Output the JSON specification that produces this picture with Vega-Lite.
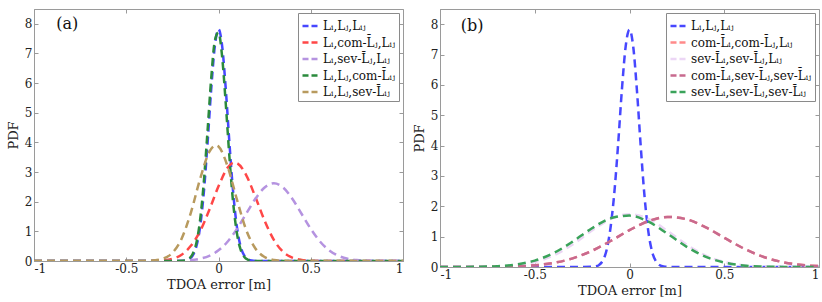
{
  "$schema": "https://vega.github.io/schema/vega-lite/v6.json",
  "padding": {"left": 6, "top": 8, "right": 2, "bottom": 2},
  "background": "white",
  "config": {
    "view": {"stroke": "#9a9a9a", "strokeWidth": 1},
    "font": "DejaVu Serif",
    "text": {"font": "DejaVu Serif"},
    "axis": {
      "domainColor": "#9a9a9a", "tickColor": "#9a9a9a", "tickSize": -4,
      "labelFont": "DejaVu Serif", "labelFontSize": 12, "labelColor": "#222",
      "titleFont": "DejaVu Serif", "titleFontSize": 13, "titleFontWeight": "normal", "titleColor": "#222",
      "grid": false, "labelPadding": 6
    },
    "legend": {
      "orient": "top-right", "offset": 4, "strokeColor": "#8a8a8a", "fillColor": "white",
      "padding": 3, "labelFont": "DejaVu Serif", "labelFontSize": 12, "labelColor": "#111",
      "symbolType": "stroke", "symbolDash": [6, 3], "symbolStrokeWidth": 2.5, "symbolSize": 289,
      "rowPadding": 0.5, "labelLimit": 400, "labelOffset": 2
    }
  },
  "datasets": {
    "namesA": [
      {"k": 1, "label": "L\u1d62,L\u2c7c,L\u1d62\u2c7c"},
      {"k": 2, "label": "L\u1d62,com-L\u0304\u2c7c,L\u1d62\u2c7c"},
      {"k": 3, "label": "L\u1d62,sev-L\u0304\u2c7c,L\u1d62\u2c7c"},
      {"k": 4, "label": "L\u1d62,L\u2c7c,com-L\u0304\u1d62\u2c7c"},
      {"k": 5, "label": "L\u1d62,L\u2c7c,sev-L\u0304\u1d62\u2c7c"}
    ],
    "namesB": [
      {"k": 1, "label": "L\u1d62,L\u2c7c,L\u1d62\u2c7c"},
      {"k": 2, "label": "com-L\u0304\u1d62,com-L\u0304\u2c7c,L\u1d62\u2c7c"},
      {"k": 3, "label": "sev-L\u0304\u1d62,sev-L\u0304\u2c7c,L\u1d62\u2c7c"},
      {"k": 4, "label": "com-L\u0304\u1d62,sev-L\u0304\u2c7c,sev-L\u0304\u1d62\u2c7c"},
      {"k": 5, "label": "sev-L\u0304\u1d62,sev-L\u0304\u2c7c,sev-L\u0304\u1d62\u2c7c"}
    ],
    "a": [
      {"k":1,"x":-1,"y":0},{"k":1,"x":-0.3,"y":0},{"k":1,"x":-0.2,"y":0.004},{"k":1,"x":-0.18,"y":0.015},{"k":1,"x":-0.16,"y":0.057},{"k":1,"x":-0.14,"y":0.18},{"k":1,"x":-0.12,"y":0.49},{"k":1,"x":-0.1,"y":1.14},{"k":1,"x":-0.08,"y":2.28},{"k":1,"x":-0.06,"y":3.91},{"k":1,"x":-0.04,"y":5.75},{"k":1,"x":-0.02,"y":7.24},{"k":1,"x":0,"y":7.82},{"k":1,"x":0.02,"y":7.24},{"k":1,"x":0.04,"y":5.75},{"k":1,"x":0.06,"y":3.91},{"k":1,"x":0.08,"y":2.28},{"k":1,"x":0.1,"y":1.14},{"k":1,"x":0.12,"y":0.49},{"k":1,"x":0.14,"y":0.18},{"k":1,"x":0.16,"y":0.057},{"k":1,"x":0.18,"y":0.015},{"k":1,"x":0.2,"y":0.004},{"k":1,"x":0.3,"y":0},{"k":1,"x":1,"y":0},
      {"k":2,"x":-1,"y":0},{"k":2,"x":-0.45,"y":0},{"k":2,"x":-0.4,"y":0.001},{"k":2,"x":-0.35,"y":0.006},{"k":2,"x":-0.3,"y":0.022},{"k":2,"x":-0.25,"y":0.074},{"k":2,"x":-0.2,"y":0.211},{"k":2,"x":-0.15,"y":0.512},{"k":2,"x":-0.1,"y":1.0},{"k":2,"x":-0.05,"y":1.72},{"k":2,"x":0,"y":2.52},{"k":2,"x":0.05,"y":3.15},{"k":2,"x":0.085,"y":3.32},{"k":2,"x":0.1,"y":3.3},{"k":2,"x":0.15,"y":2.9},{"k":2,"x":0.2,"y":2.16},{"k":2,"x":0.25,"y":1.36},{"k":2,"x":0.3,"y":0.71},{"k":2,"x":0.35,"y":0.31},{"k":2,"x":0.4,"y":0.115},{"k":2,"x":0.45,"y":0.036},{"k":2,"x":0.5,"y":0.009},{"k":2,"x":0.55,"y":0.002},{"k":2,"x":0.6,"y":0},{"k":2,"x":1,"y":0},
      {"k":3,"x":-1,"y":0},{"k":3,"x":-0.3,"y":0},{"k":3,"x":-0.25,"y":0.003},{"k":3,"x":-0.2,"y":0.01},{"k":3,"x":-0.15,"y":0.03},{"k":3,"x":-0.1,"y":0.077},{"k":3,"x":-0.05,"y":0.175},{"k":3,"x":0,"y":0.359},{"k":3,"x":0.05,"y":0.659},{"k":3,"x":0.1,"y":1.083},{"k":3,"x":0.15,"y":1.594},{"k":3,"x":0.2,"y":2.1},{"k":3,"x":0.25,"y":2.48},{"k":3,"x":0.3,"y":2.62},{"k":3,"x":0.35,"y":2.48},{"k":3,"x":0.4,"y":2.1},{"k":3,"x":0.45,"y":1.594},{"k":3,"x":0.5,"y":1.083},{"k":3,"x":0.55,"y":0.659},{"k":3,"x":0.6,"y":0.359},{"k":3,"x":0.65,"y":0.175},{"k":3,"x":0.7,"y":0.077},{"k":3,"x":0.75,"y":0.03},{"k":3,"x":0.8,"y":0.01},{"k":3,"x":0.85,"y":0.003},{"k":3,"x":0.9,"y":0},{"k":3,"x":1,"y":0},
      {"k":4,"x":-1,"y":0},{"k":4,"x":-0.3,"y":0},{"k":4,"x":-0.2,"y":0.005},{"k":4,"x":-0.18,"y":0.021},{"k":4,"x":-0.16,"y":0.076},{"k":4,"x":-0.14,"y":0.233},{"k":4,"x":-0.12,"y":0.61},{"k":4,"x":-0.1,"y":1.37},{"k":4,"x":-0.08,"y":2.63},{"k":4,"x":-0.06,"y":4.33},{"k":4,"x":-0.04,"y":6.12},{"k":4,"x":-0.02,"y":7.42},{"k":4,"x":0,"y":7.71},{"k":4,"x":0.02,"y":6.87},{"k":4,"x":0.04,"y":5.25},{"k":4,"x":0.06,"y":3.44},{"k":4,"x":0.08,"y":1.93},{"k":4,"x":0.1,"y":0.93},{"k":4,"x":0.12,"y":0.38},{"k":4,"x":0.14,"y":0.136},{"k":4,"x":0.16,"y":0.041},{"k":4,"x":0.18,"y":0.011},{"k":4,"x":0.2,"y":0.002},{"k":4,"x":0.3,"y":0},{"k":4,"x":1,"y":0},
      {"k":5,"x":-1,"y":0},{"k":5,"x":-0.45,"y":0},{"k":5,"x":-0.4,"y":0.003},{"k":5,"x":-0.35,"y":0.018},{"k":5,"x":-0.3,"y":0.078},{"k":5,"x":-0.25,"y":0.274},{"k":5,"x":-0.2,"y":0.752},{"k":5,"x":-0.15,"y":1.625},{"k":5,"x":-0.1,"y":2.76},{"k":5,"x":-0.05,"y":3.68},{"k":5,"x":-0.015,"y":3.9},{"k":5,"x":0,"y":3.86},{"k":5,"x":0.05,"y":3.18},{"k":5,"x":0.1,"y":2.07},{"k":5,"x":0.15,"y":1.05},{"k":5,"x":0.2,"y":0.423},{"k":5,"x":0.25,"y":0.133},{"k":5,"x":0.3,"y":0.033},{"k":5,"x":0.35,"y":0.006},{"k":5,"x":0.4,"y":0.001},{"k":5,"x":0.45,"y":0},{"k":5,"x":1,"y":0}
    ],
    "b": [
      {"k":1,"x":-1,"y":0},{"k":1,"x":-0.3,"y":0},{"k":1,"x":-0.2,"y":0.006},{"k":1,"x":-0.18,"y":0.02},{"k":1,"x":-0.16,"y":0.07},{"k":1,"x":-0.14,"y":0.22},{"k":1,"x":-0.12,"y":0.58},{"k":1,"x":-0.1,"y":1.3},{"k":1,"x":-0.08,"y":2.45},{"k":1,"x":-0.06,"y":4.05},{"k":1,"x":-0.04,"y":5.85},{"k":1,"x":-0.02,"y":7.28},{"k":1,"x":0,"y":7.82},{"k":1,"x":0.02,"y":7.24},{"k":1,"x":0.04,"y":5.75},{"k":1,"x":0.06,"y":3.91},{"k":1,"x":0.08,"y":2.28},{"k":1,"x":0.1,"y":1.14},{"k":1,"x":0.12,"y":0.49},{"k":1,"x":0.14,"y":0.18},{"k":1,"x":0.16,"y":0.057},{"k":1,"x":0.18,"y":0.015},{"k":1,"x":0.2,"y":0.004},{"k":1,"x":0.3,"y":0},{"k":1,"x":1,"y":0},
      {"k":2,"x":-1,"y":0},{"k":2,"x":-0.9,"y":0},{"k":2,"x":-0.8,"y":0.002},{"k":2,"x":-0.7,"y":0.007},{"k":2,"x":-0.6,"y":0.02},{"k":2,"x":-0.5,"y":0.056},{"k":2,"x":-0.4,"y":0.135},{"k":2,"x":-0.3,"y":0.286},{"k":2,"x":-0.2,"y":0.529},{"k":2,"x":-0.1,"y":0.856},{"k":2,"x":0,"y":1.216},{"k":2,"x":0.1,"y":1.512},{"k":2,"x":0.2,"y":1.648},{"k":2,"x":0.3,"y":1.573},{"k":2,"x":0.4,"y":1.316},{"k":2,"x":0.5,"y":0.965},{"k":2,"x":0.6,"y":0.619},{"k":2,"x":0.7,"y":0.349},{"k":2,"x":0.8,"y":0.172},{"k":2,"x":0.9,"y":0.074},{"k":2,"x":1,"y":0.028},
      {"k":3,"x":-1,"y":0},{"k":3,"x":-0.9,"y":0.001},{"k":3,"x":-0.8,"y":0.004},{"k":3,"x":-0.7,"y":0.017},{"k":3,"x":-0.6,"y":0.058},{"k":3,"x":-0.5,"y":0.164},{"k":3,"x":-0.4,"y":0.384},{"k":3,"x":-0.3,"y":0.743},{"k":3,"x":-0.2,"y":1.192},{"k":3,"x":-0.1,"y":1.583},{"k":3,"x":0,"y":1.74},{"k":3,"x":0.1,"y":1.583},{"k":3,"x":0.2,"y":1.192},{"k":3,"x":0.3,"y":0.743},{"k":3,"x":0.4,"y":0.384},{"k":3,"x":0.5,"y":0.164},{"k":3,"x":0.6,"y":0.058},{"k":3,"x":0.7,"y":0.017},{"k":3,"x":0.8,"y":0.004},{"k":3,"x":0.9,"y":0.001},{"k":3,"x":1,"y":0},
      {"k":4,"x":-1,"y":0},{"k":4,"x":-0.9,"y":0},{"k":4,"x":-0.8,"y":0.002},{"k":4,"x":-0.7,"y":0.007},{"k":4,"x":-0.6,"y":0.02},{"k":4,"x":-0.5,"y":0.056},{"k":4,"x":-0.4,"y":0.135},{"k":4,"x":-0.3,"y":0.286},{"k":4,"x":-0.2,"y":0.529},{"k":4,"x":-0.1,"y":0.856},{"k":4,"x":0,"y":1.216},{"k":4,"x":0.1,"y":1.512},{"k":4,"x":0.2,"y":1.648},{"k":4,"x":0.3,"y":1.573},{"k":4,"x":0.4,"y":1.316},{"k":4,"x":0.5,"y":0.965},{"k":4,"x":0.6,"y":0.619},{"k":4,"x":0.7,"y":0.349},{"k":4,"x":0.8,"y":0.172},{"k":4,"x":0.9,"y":0.074},{"k":4,"x":1,"y":0.028},
      {"k":5,"x":-1,"y":0},{"k":5,"x":-0.9,"y":0.002},{"k":5,"x":-0.8,"y":0.007},{"k":5,"x":-0.7,"y":0.026},{"k":5,"x":-0.6,"y":0.081},{"k":5,"x":-0.5,"y":0.211},{"k":5,"x":-0.4,"y":0.46},{"k":5,"x":-0.3,"y":0.836},{"k":5,"x":-0.2,"y":1.268},{"k":5,"x":-0.1,"y":1.604},{"k":5,"x":0,"y":1.694},{"k":5,"x":0.1,"y":1.492},{"k":5,"x":0.2,"y":1.097},{"k":5,"x":0.3,"y":0.673},{"k":5,"x":0.4,"y":0.344},{"k":5,"x":0.5,"y":0.147},{"k":5,"x":0.6,"y":0.052},{"k":5,"x":0.7,"y":0.016},{"k":5,"x":0.8,"y":0.004},{"k":5,"x":0.9,"y":0.001},{"k":5,"x":1,"y":0}
    ]
  },
  "spacing": 8,
  "resolve": {"scale": {"color": "independent"}, "legend": {"color": "independent"}},
  "hconcat": [
    {
      "width": 369, "height": 252,
      "layer": [
        {
          "data": {"name": "a"},
          "transform": [{"lookup": "k", "from": {"data": {"name": "namesA"}, "key": "k", "fields": ["label"]}}],
          "mark": {"type": "line", "strokeDash": [8, 5], "strokeWidth": 2.5, "interpolate": "monotone", "clip": true},
          "encoding": {
            "x": {"field": "x", "type": "quantitative", "scale": {"domain": [-1, 1], "nice": false}, "axis": {"title": "TDOA error [m]", "values": [-1, -0.5, 0, 0.5, 1], "labelExpr": "datum.value < 0 ? '-' + format(-datum.value, '~g') : format(datum.value, '~g')"}},
            "y": {"field": "y", "type": "quantitative", "scale": {"domain": [0, 8.5], "nice": false}, "axis": {"title": "PDF", "values": [0, 1, 2, 3, 4, 5, 6, 7, 8], "titlePadding": 4}},
            "color": {"field": "label", "type": "nominal", "title": null,
              "scale": {"domain": ["L\u1d62,L\u2c7c,L\u1d62\u2c7c", "L\u1d62,com-L\u0304\u2c7c,L\u1d62\u2c7c", "L\u1d62,sev-L\u0304\u2c7c,L\u1d62\u2c7c", "L\u1d62,L\u2c7c,com-L\u0304\u1d62\u2c7c", "L\u1d62,L\u2c7c,sev-L\u0304\u1d62\u2c7c"],
                "range": ["#4747ff", "#ff4747", "#b593e0", "#2a8a3c", "#b89a5e"]}}
          }
        },
        {
          "data": {"values": [{"x": -0.88, "y": 8.0, "t": "(a)"}]},
          "mark": {"type": "text", "fontSize": 16, "align": "left", "baseline": "middle", "color": "#111", "font": "DejaVu Serif"},
          "encoding": {
            "x": {"field": "x", "type": "quantitative", "axis": {"orient": "top", "labels": false, "domain": false, "title": null, "values": [-1, -0.5, 0, 0.5, 1]}},
            "y": {"field": "y", "type": "quantitative", "axis": {"orient": "right", "labels": false, "domain": false, "title": null, "values": [0, 1, 2, 3, 4, 5, 6, 7, 8]}},
            "text": {"field": "t"}
          }
        }
      ],
      "resolve": {"axis": {"x": "independent", "y": "independent"}}
    },
    {
      "width": 379, "height": 258,
      "layer": [
        {
          "data": {"name": "b"},
          "transform": [{"lookup": "k", "from": {"data": {"name": "namesB"}, "key": "k", "fields": ["label"]}}],
          "mark": {"type": "line", "strokeDash": [8, 5], "strokeWidth": 2.5, "interpolate": "monotone", "clip": true},
          "encoding": {
            "x": {"field": "x", "type": "quantitative", "scale": {"domain": [-1, 1], "nice": false}, "axis": {"title": "TDOA error [m]", "values": [-1, -0.5, 0, 0.5, 1], "labelExpr": "datum.value < 0 ? '-' + format(-datum.value, '~g') : format(datum.value, '~g')"}},
            "y": {"field": "y", "type": "quantitative", "scale": {"domain": [0, 8.5], "nice": false}, "axis": {"title": "PDF", "values": [0, 1, 2, 3, 4, 5, 6, 7, 8], "titlePadding": 4}},
            "color": {"field": "label", "type": "nominal", "title": null,
              "scale": {"domain": ["L\u1d62,L\u2c7c,L\u1d62\u2c7c", "com-L\u0304\u1d62,com-L\u0304\u2c7c,L\u1d62\u2c7c", "sev-L\u0304\u1d62,sev-L\u0304\u2c7c,L\u1d62\u2c7c", "com-L\u0304\u1d62,sev-L\u0304\u2c7c,sev-L\u0304\u1d62\u2c7c", "sev-L\u0304\u1d62,sev-L\u0304\u2c7c,sev-L\u0304\u1d62\u2c7c"],
                "range": ["#4747ff", "#ff8a8a", "#ecd6f5", "#c86a8e", "#3aa35a"]}}
          }
        },
        {
          "data": {"values": [{"x": -0.89, "y": 7.93, "t": "(b)"}]},
          "mark": {"type": "text", "fontSize": 16, "align": "left", "baseline": "middle", "color": "#111", "font": "DejaVu Serif"},
          "encoding": {
            "x": {"field": "x", "type": "quantitative", "axis": {"orient": "top", "labels": false, "domain": false, "title": null, "values": [-1, -0.5, 0, 0.5, 1]}},
            "y": {"field": "y", "type": "quantitative", "axis": {"orient": "right", "labels": false, "domain": false, "title": null, "values": [0, 1, 2, 3, 4, 5, 6, 7, 8]}},
            "text": {"field": "t"}
          }
        }
      ],
      "resolve": {"axis": {"x": "independent", "y": "independent"}}
    }
  ]
}
